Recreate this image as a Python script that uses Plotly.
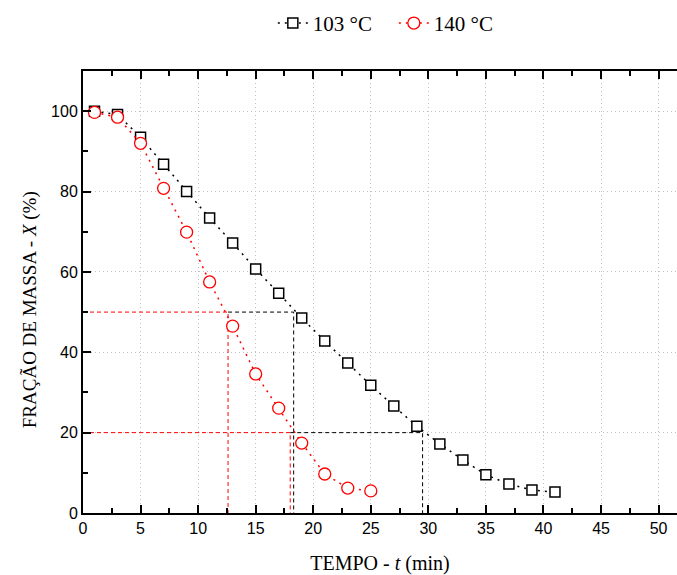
import plotly.graph_objects as go

time_min = [1, 3, 5, 7, 9, 11, 13, 15, 17, 19, 21, 23, 25, 27, 29, 31, 33, 35, 37, 39, 41]
x_103 = [100.0, 99.2, 93.5, 86.8, 80.0, 73.4, 67.2, 60.7, 54.7, 48.5, 42.8, 37.3, 31.8,
         26.6, 21.6, 17.2, 13.2, 9.5, 7.2, 5.7, 5.2]
time_140 = [1, 3, 5, 7, 9, 11, 13, 15, 17, 19, 21, 23, 25]
x_140 = [99.7, 98.5, 92.0, 80.8, 69.9, 57.5, 46.5, 34.6, 26.1, 17.4, 9.7, 6.2, 5.5]

ref_levels = [50, 20]
ref_t_140 = [12.6, 18.0]
ref_t_103 = [18.3, 29.5]

serif = "Liberation Serif"
sans = "Liberation Sans"

fig = go.Figure()

# reference dashed guide lines
for lvl, t140, t103 in zip(ref_levels, ref_t_140, ref_t_103):
    fig.add_trace(go.Scatter(x=[0, t140, t140], y=[lvl, lvl, 0], mode="lines",
                             line=dict(color="red", width=1, dash="4px,3px"),
                             showlegend=False, hoverinfo="skip"))
    fig.add_trace(go.Scatter(x=[t140, t103, t103], y=[lvl, lvl, 0], mode="lines",
                             line=dict(color="black", width=1, dash="4px,3px"),
                             showlegend=False, hoverinfo="skip"))

fig.add_trace(go.Scatter(x=time_min, y=x_103, mode="lines+markers", name="103 °C",
                         line=dict(color="black", width=1.5, dash="2px,5px"),
                         marker=dict(symbol="square", size=10, color="white",
                                     line=dict(width=1.5, color="black"))))
fig.add_trace(go.Scatter(x=time_140, y=x_140, mode="lines+markers", name="140 °C",
                         line=dict(color="red", width=1.5, dash="2px,5px"),
                         marker=dict(symbol="circle", size=12, color="white",
                                     line=dict(width=1.3, color="red"))))

fig.update_layout(
    width=677, height=575,
    margin=dict(l=83, r=0, t=71, b=62),
    paper_bgcolor="white", plot_bgcolor="white",
    showlegend=True,
    legend=dict(orientation="h", x=0.403, y=0.995, xanchor="left", yanchor="top",
                xref="container", yref="container",
                font=dict(family=serif, size=21, color="black"),
                entrywidth=76, entrywidthmode="pixels",
                itemwidth=30, tracegroupgap=0),
    xaxis=dict(range=[0, 51.6], tickmode="linear", tick0=0, dtick=5,
               ticks="inside", ticklen=8, tickwidth=2, tickcolor="black",
               showline=True, linecolor="black", linewidth=2, mirror="ticks",
               showgrid=True, gridcolor="#c0c0c0", griddash="1px,3px", gridwidth=1,
               zeroline=False,
               minor=dict(ticks="inside", ticklen=5, tickwidth=2, tickcolor="black",
                          dtick=2.5, showgrid=False),
               tickfont=dict(family=sans, size=16, color="black"),
               title=dict(text="TEMPO - <i>t</i> (min)", standoff=20,
                          font=dict(family=serif, size=20, color="black"))),
    yaxis=dict(range=[0, 110], tickmode="linear", tick0=0, dtick=20,
               ticks="inside", ticklen=8, tickwidth=2, tickcolor="black",
               showline=True, linecolor="black", linewidth=2, mirror=False,
               showgrid=True, gridcolor="#c0c0c0", griddash="1px,3px", gridwidth=1,
               zeroline=False,
               minor=dict(ticks="inside", ticklen=5, tickwidth=2, tickcolor="black",
                          dtick=10, showgrid=False),
               tickfont=dict(family=sans, size=16, color="black")),
    annotations=[dict(text="FRAÇÃO DE MASSA - <i>X</i> (%)", textangle=-90,
                      xref="paper", yref="paper", x=-0.09, y=0.46,
                      xanchor="center", yanchor="middle", showarrow=False,
                      font=dict(family=serif, size=19, color="black"))],
)

fig.write_html("out.html")
